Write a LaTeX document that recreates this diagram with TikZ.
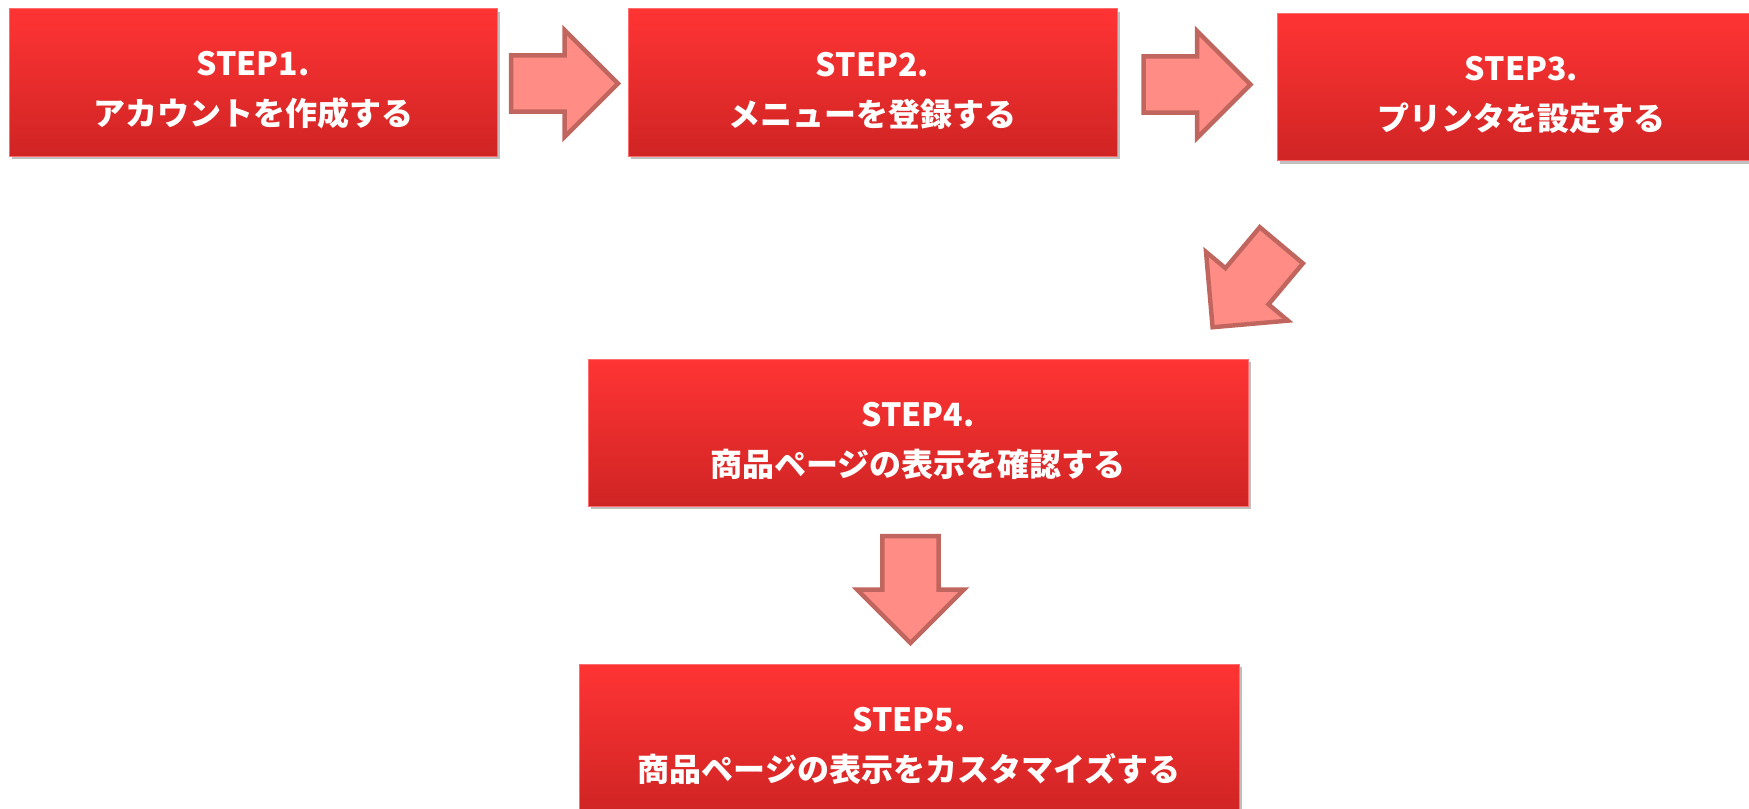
\documentclass[tikz,border=0pt]{standalone}
\usepackage{fontspec}
\newfontfamily\jp{Noto Sans CJK JP}
\usetikzlibrary{shapes.arrows,shadows}
\definecolor{boxtop}{RGB}{255,52,52}
\definecolor{boxmid}{RGB}{240,46,46}
\definecolor{boxbot}{RGB}{208,36,36}
\definecolor{boxline}{RGB}{255,110,110}
\definecolor{arrfill}{RGB}{255,140,133}
\definecolor{arrline}{RGB}{192,102,95}
\tikzset{
  stepbox/.style={rectangle,draw=boxline,line width=0.5pt,top color=boxtop,middle color=boxmid,bottom color=boxbot,
    minimum height=73.5pt,drop shadow={shadow xshift=1.5pt,shadow yshift=-1.5pt,fill=black,opacity=0.25}},
  steptext/.style={align=center,text=white,inner sep=0pt,yshift=-4pt,font=\jp\bfseries\fontsize{16pt}{25pt}\selectfont},
  blockarrow/.style={single arrow,draw=arrline,fill=arrfill,line width=2.2pt,inner sep=0pt,inner ysep=12.75pt,
    minimum height=53.5pt,minimum width=53.5pt,single arrow head extend=12.5pt,single arrow tip angle=90}
}
\begin{document}
\begin{tikzpicture}[x=0.5pt,y=-0.5pt]
\clip (0,0) rectangle (1749,808);
\foreach \n/\x/\y/\w/\t in {1/253/82.5/244/アカウントを作成する,2/872.5/82.5/244.5/メニューを登録する,3/1521.5/87/244.5/プリンタを設定する,4/918/432.5/330/商品ページの表示を確認する,5/909/737.5/330/商品ページの表示をカスタマイズする}
\node[stepbox,minimum width=\w pt,label={[steptext]center:STEP\n.\\\t}] (s\n) at (\x,\y) {};
\node[blockarrow] (a12) at (550.5,83.5) {};
\node[blockarrow] (a23) at (1183,84.5) {};
\node[blockarrow,rotate=230] (a34) at (1256,275.5) {};
\node[blockarrow,rotate=-90] (a45) at (910.5,575.5) {};
\end{tikzpicture}
\end{document}
